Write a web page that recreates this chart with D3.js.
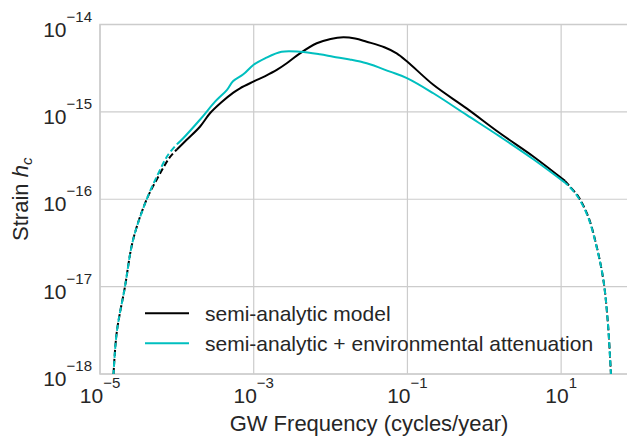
<!DOCTYPE html>
<html>
<head>
<meta charset="utf-8">
<script src="https://cdn.jsdelivr.net/npm/d3@7"></script>
<style>
  body { margin: 0; background: #fff; }
  text { font-family: "Liberation Sans", Arial, sans-serif; fill: #262626; }
</style>
</head>
<body>
<div class="chart"></div>
<script>
// values, as log10(frequency) and log10(strain)
var blackLeftF  = [-4.83, -4.783, -4.675, -4.57, -4.392, -4.24, -4.1, -4.0];
var blackLeftH  = [-18.1, -17.53, -17.0, -16.466, -16.0, -15.74, -15.53, -15.43];
var blackMidF   = [-4.0, -3.872, -3.70, -3.569, -3.42, -3.265, -3.178, -3.005, -2.85, -2.70, -2.57, -2.398, -2.18, -2.0, -1.834, -1.68, -1.53, -1.30, -1.14, -1.0, -0.663, -0.23, 0.205, 0.638, 1.05];
var blackMidH   = [-15.43, -15.32, -15.17, -15.016, -14.89, -14.78, -14.73, -14.654, -14.59, -14.52, -14.444, -14.33, -14.215, -14.165, -14.146, -14.16, -14.197, -14.26, -14.33, -14.426, -14.69, -14.96, -15.245, -15.51, -15.79];
var blackRightF = [1.05, 1.10, 1.223, 1.353, 1.462, 1.549, 1.605, 1.645, 1.652];
var blackRightH = [-15.79, -15.84, -15.97, -16.2, -16.54, -16.92, -17.38, -17.95, -18.1];

var cyanLeftF   = [-4.83, -4.783, -4.675, -4.57, -4.392, -4.25, -4.12, -4.0];
var cyanLeftH   = [-18.1, -17.53, -17.0, -16.466, -16.0, -15.72, -15.5, -15.37];
var cyanMidF    = [-4.0, -3.96, -3.70, -3.50, -3.35, -3.27, -3.135, -3.005, -2.853, -2.637, -2.398, -2.14, -1.965, -1.75, -1.53, -1.226, -1.0, -0.663, -0.23, 0.205, 0.638, 1.05];
var cyanMidH    = [-15.37, -15.34, -15.09, -14.88, -14.75, -14.65, -14.57, -14.463, -14.387, -14.311, -14.311, -14.34, -14.368, -14.40, -14.444, -14.54, -14.616, -14.787, -15.035, -15.284, -15.542, -15.81];
var cyanRightF  = [1.05, 1.10, 1.223, 1.353, 1.462, 1.549, 1.605, 1.645, 1.655];
var cyanRightH  = [-15.81, -15.85, -15.98, -16.21, -16.55, -16.92, -17.38, -17.95, -18.1];

var xTickExp = [-5, -3, -1, 1];
var yTickExp = [-18, -17, -16, -15, -14];
var legendLabels = ["semi-analytic model", "semi-analytic + environmental attenuation"];

var svgWidth = 627;
var svgHeight = 437;
var margin = { top: 24.5, left: 100 };
var width = 538;
var height = 349.5;

var svg = d3.select(".chart")
  .append("svg")
  .attr("width", svgWidth)
  .attr("height", svgHeight);

var chart = svg.append("g")
  .attr("transform", "translate(" + margin.left + "," + margin.top + ")");

var xScale = d3.scaleLog().domain([1e-5, 1e2]).range([0, width]);
var yScale = d3.scaleLog().domain([1e-18, 1e-14]).range([height, 0]);

function pts(fs, hs) {
  return fs.map(function(f, i) { return [Math.pow(10, f), Math.pow(10, hs[i])]; });
}

// grid
chart.selectAll(".vgrid")
  .data(xTickExp)
  .enter()
  .append("line")
  .attr("x1", function(d) { return xScale(Math.pow(10, d)); })
  .attr("x2", function(d) { return xScale(Math.pow(10, d)); })
  .attr("y1", 0)
  .attr("y2", height)
  .attr("stroke", "#cccccc")
  .attr("stroke-width", 1.2);

chart.selectAll(".hgrid")
  .data(yTickExp)
  .enter()
  .append("line")
  .attr("x1", 0)
  .attr("x2", width)
  .attr("y1", function(d) { return yScale(Math.pow(10, d)); })
  .attr("y2", function(d) { return yScale(Math.pow(10, d)); })
  .attr("stroke", "#cccccc")
  .attr("stroke-width", 1.2);

// frame
chart.append("rect")
  .attr("x", 0).attr("y", 0)
  .attr("width", width).attr("height", height)
  .attr("fill", "none")
  .attr("stroke", "#cccccc")
  .attr("stroke-width", 1.5);

// curves
var line = d3.line()
  .x(function(d) { return xScale(d[0]); })
  .y(function(d) { return yScale(d[1]); })
  .curve(d3.curveCatmullRom.alpha(0.5));

chart.append("clipPath").attr("id", "plotclip")
  .append("rect").attr("width", width).attr("height", height);

var curves = chart.append("g").attr("clip-path", "url(#plotclip)");

var segs = [
  { d: pts(blackLeftF, blackLeftH), c: "#000000", dash: "6,3", off: 0 },
  { d: pts(blackMidF, blackMidH), c: "#000000", dash: null, off: 0 },
  { d: pts(blackRightF, blackRightH), c: "#000000", dash: "6,3", off: 0 },
  { d: pts(cyanLeftF, cyanLeftH), c: "#00bfbf", dash: "6,3", off: 2 },
  { d: pts(cyanMidF, cyanMidH), c: "#00bfbf", dash: null, off: 0 },
  { d: pts(cyanRightF, cyanRightH), c: "#00bfbf", dash: "6,3", off: 2 }
];

segs.forEach(function(s) {
  curves.append("path")
    .datum(s.d)
    .attr("d", line)
    .attr("fill", "none")
    .attr("stroke", s.c)
    .attr("stroke-width", 2)
    .attr("stroke-dasharray", s.dash)
    .attr("stroke-dashoffset", s.off);
});

// tick labels
chart.selectAll(".xlab")
  .data(xTickExp)
  .enter()
  .append("text")
  .attr("x", function(d) { return xScale(Math.pow(10, d)); })
  .attr("y", height + 29)
  .attr("text-anchor", "middle")
  .style("font-size", "21px")
  .each(function(d) {
    var t = d3.select(this);
    t.append("tspan").text("10");
    t.append("tspan").attr("dy", -15).style("font-size", "15px").text(d < 0 ? "\u2212" + (-d) : d);
  });

chart.selectAll(".ylab")
  .data(yTickExp)
  .enter()
  .append("text")
  .attr("x", -8)
  .attr("y", function(d) { return yScale(Math.pow(10, d)) + 12; })
  .attr("text-anchor", "end")
  .style("font-size", "21px")
  .each(function(d) {
    var t = d3.select(this);
    t.append("tspan").text("10");
    t.append("tspan").attr("dy", -15).style("font-size", "15px").text("\u2212" + (-d));
  });

// axis titles
svg.append("text")
  .attr("x", margin.left + width / 2)
  .attr("y", 431)
  .attr("text-anchor", "middle")
  .style("font-size", "22px")
  .text("GW Frequency (cycles/year)");

var ylab = svg.append("text")
  .attr("transform", "translate(28," + (margin.top + height / 2) + ") rotate(-90)")
  .attr("text-anchor", "middle")
  .style("font-size", "22px");
ylab.append("tspan").text("Strain ");
ylab.append("tspan").style("font-style", "italic").text("h");
ylab.append("tspan").attr("dy", 4).style("font-size", "15px").style("font-style", "italic").text("c");

// legend
var legendColors = ["#000000", "#00bfbf"];
var legend = svg.selectAll(".legend")
  .data(legendLabels)
  .enter()
  .append("g")
  .attr("transform", function(d, i) { return "translate(145," + (313.3 + i * 30) + ")"; });

legend.append("line")
  .attr("x1", 0).attr("x2", 44)
  .attr("stroke", function(d, i) { return legendColors[i]; })
  .attr("stroke-width", 2);

legend.append("text")
  .attr("x", 60)
  .attr("dy", "0.36em")
  .style("font-size", "21px")
  .text(function(d) { return d; });
</script>
</body>
</html>
